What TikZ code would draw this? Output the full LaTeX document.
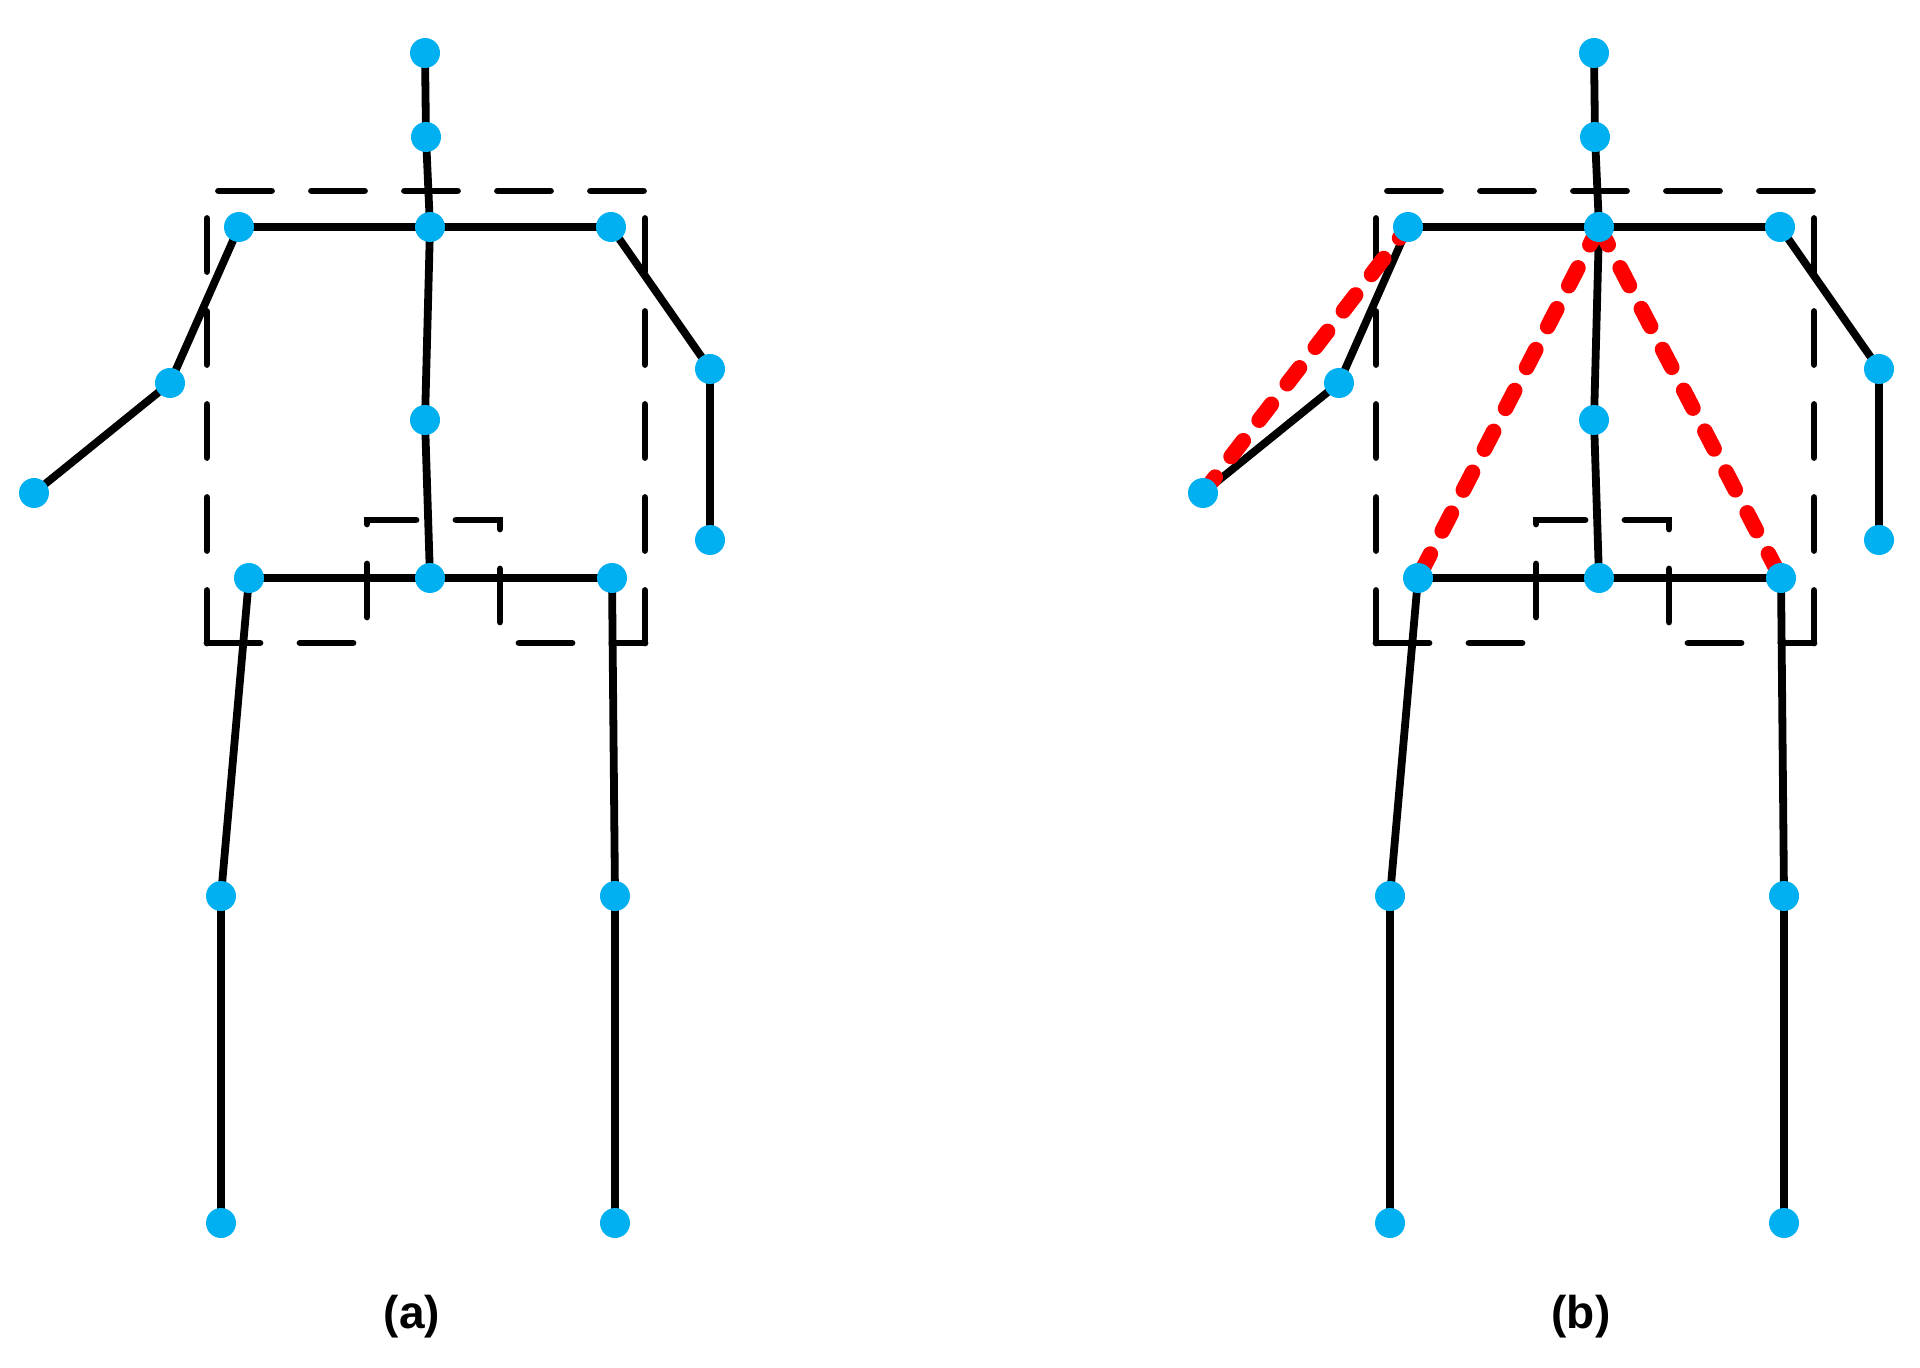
\documentclass[tikz,border=0pt]{standalone}
\usepackage{fontspec}
\setmainfont{Liberation Sans}
\usetikzlibrary{backgrounds}
\definecolor{jointblue}{RGB}{0,176,240}
\definecolor{limbred}{RGB}{255,0,0}
\begin{document}
\begin{tikzpicture}[x=0.5pt,y=-0.5pt,
  joint/.style={circle,fill=jointblue,draw=none,inner sep=0pt,minimum size=15pt},
  bone/.style={line width=3.9pt,black},
  boxline/.style={line width=3.4pt,black,line cap=round,dash pattern=on 26.5pt off 20pt,line join=miter},
  redlink/.style={line width=7.8pt,limbred,line cap=round,dash pattern=on 10pt off 13pt},
  caption/.style={font=\bfseries\fontsize{23}{27}\selectfont,inner sep=0pt}]
\useasboundingbox (0,0) rectangle (1920,1368);
\foreach \p/\dx in {a/0,b/1169}{
  \node[joint] (\p-head) at (425+\dx,53) {};
  \node[joint] (\p-neck) at (426+\dx,137) {};
  \node[joint] (\p-shc)  at (430+\dx,227) {};
  \node[joint] (\p-shl)  at (239+\dx,227) {};
  \node[joint] (\p-shr)  at (611+\dx,227) {};
  \node[joint] (\p-ell)  at (170+\dx,383) {};
  \node[joint] (\p-hal)  at (34+\dx,493) {};
  \node[joint] (\p-elr)  at (710+\dx,369) {};
  \node[joint] (\p-har)  at (710+\dx,540) {};
  \node[joint] (\p-spm)  at (425+\dx,420) {};
  \node[joint] (\p-spb)  at (430+\dx,578) {};
  \node[joint] (\p-hipl) at (249+\dx,578) {};
  \node[joint] (\p-hipr) at (612+\dx,578) {};
  \node[joint] (\p-knl)  at (221+\dx,896) {};
  \node[joint] (\p-ftl)  at (221+\dx,1223) {};
  \node[joint] (\p-knr)  at (615+\dx,896) {};
  \node[joint] (\p-ftr)  at (615+\dx,1223) {};
}
\begin{scope}[on background layer]
\fill[white] (0,0) rectangle (1920,1368);
\foreach \p/\dx in {a/0,b/1169}{
  % dashed regions
  \draw[boxline,dash phase=40.25pt] (206+\dx,191) -- (645+\dx,191);
  \draw[boxline,dash phase=32.75pt] (207+\dx,191) -- (207+\dx,643);
  \draw[boxline,dash phase=32.75pt] (645+\dx,191) -- (645+\dx,643);
  \draw[boxline] (207+\dx,643) -- (367+\dx,643) -- (367+\dx,520) -- (500+\dx,520) -- (500+\dx,643) -- (645+\dx,643);
  % skeleton
  \draw[bone] (\p-head.center) -- (\p-neck.center) -- (\p-shc.center) -- (\p-spm.center) -- (\p-spb.center);
  \draw[bone] (\p-shl.center) -- (\p-shc.center) -- (\p-shr.center);
  \draw[bone] (\p-hal.center) -- (\p-ell.center) -- (\p-shl.center);
  \draw[bone] (\p-shr.center) -- (\p-elr.center) -- (\p-har.center);
  \draw[bone] (\p-hipl.center) -- (\p-spb.center) -- (\p-hipr.center);
  \draw[bone] (\p-hipl.center) -- (\p-knl.center) -- (\p-ftl.center);
  \draw[bone] (\p-hipr.center) -- (\p-knr.center) -- (\p-ftr.center);
}
\draw[redlink] (b-hal.center) -- (b-shl.center);
\draw[redlink] (b-shc.center) -- (b-hipl.center);
\draw[redlink] (b-shc.center) -- (b-hipr.center);
\end{scope}
\node[caption] (lab-a) at (412,1317) {(a)};
\node[caption] (lab-b) at (1581,1317) {(b)};
\end{tikzpicture}
\end{document}
